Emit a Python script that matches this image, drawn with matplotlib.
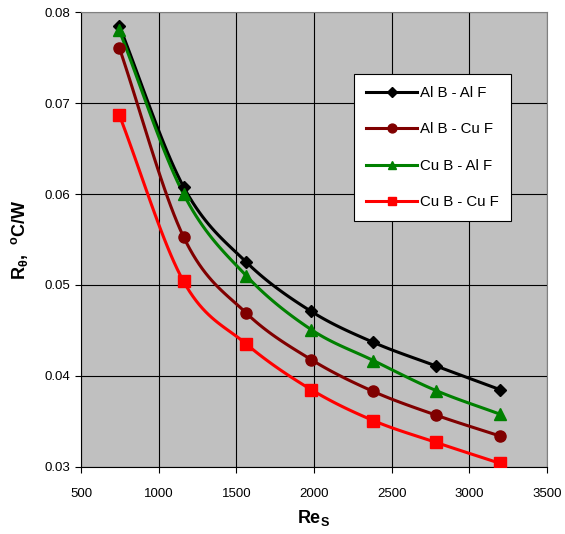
import numpy as np
import matplotlib.pyplot as plt

plt.rcParams['font.family'] = ['Liberation Sans', 'DejaVu Sans']
plt.rcParams['mathtext.fontset'] = 'custom'
plt.rcParams['mathtext.rm'] = 'Liberation Sans:bold'
plt.rcParams['mathtext.it'] = 'Liberation Sans:bold'
plt.rcParams['mathtext.bf'] = 'Liberation Sans:bold'

# data
re_s = [746, 1160, 1565, 1982, 2382, 2786, 3198]
al_al = [0.0785, 0.0608, 0.0525, 0.0471, 0.0437, 0.0411, 0.0385]
al_cu = [0.0761, 0.0553, 0.0469, 0.0418, 0.0383, 0.0357, 0.0334]
cu_al = [0.0780, 0.0600, 0.0510, 0.0451, 0.0417, 0.0384, 0.0358]
cu_cu = [0.0687, 0.0504, 0.0435, 0.0385, 0.0351, 0.0327, 0.0304]

series = [
    ('Al B - Al F', al_al, 'black', 'D', 6),
    ('Al B - Cu F', al_cu, '#800000', 'o', 8),
    ('Cu B - Al F', cu_al, '#008000', '^', 8),
    ('Cu B - Cu F', cu_cu, '#FF0000', 's', 8),
]


def smooth(x, y, n=20):
    # Catmull-Rom style smoothing, like the spreadsheet "smoothed line" option
    x = np.asarray(x, float)
    y = np.asarray(y, float)
    px = np.concatenate([[2 * x[0] - x[1]], x, [2 * x[-1] - x[-2]]])
    py = np.concatenate([[2 * y[0] - y[1]], y, [2 * y[-1] - y[-2]]])
    xs, ys = [], []
    t = np.linspace(0, 1, n, endpoint=False)
    for i in range(1, len(px) - 2):
        for p, out in ((px, xs), (py, ys)):
            p0, p1, p2, p3 = p[i - 1], p[i], p[i + 1], p[i + 2]
            out.extend(0.5 * ((2 * p1) + (-p0 + p2) * t
                              + (2 * p0 - 5 * p1 + 4 * p2 - p3) * t ** 2
                              + (-p0 + 3 * p1 - 3 * p2 + p3) * t ** 3))
    xs.append(x[-1])
    ys.append(y[-1])
    return xs, ys


fig = plt.figure(figsize=(5.65, 5.34), dpi=100)
ax = fig.add_axes([0.1434, 0.1255, 0.8246, 0.852])
ax.set_facecolor('#C0C0C0')

for label, vals, color, marker, ms in series:
    sx, sy = smooth(re_s, vals)
    ax.plot(sx, sy, color=color, lw=2.2, zorder=3)
    ax.plot(re_s, vals, linestyle='none', marker=marker, ms=ms, color=color, zorder=4)
    ax.plot([], [], color=color, lw=2.2, marker=marker, ms=ms, label=label)

ax.set_xlim(500, 3500)
ax.set_ylim(0.03, 0.08)
ax.set_xticks(np.arange(500, 3501, 500))
ax.set_yticks([0.03, 0.04, 0.05, 0.06, 0.07, 0.08])
ax.grid(True, color='black', lw=0.8)
ax.set_axisbelow(True)
ax.tick_params(labelsize=9.5, length=4, width=0.8, direction='out')
ax.tick_params(axis='x', pad=11)
ax.tick_params(axis='y', pad=4)
for side in ['top', 'right']:
    ax.spines[side].set_color('#808080')
for side in ['left', 'bottom']:
    ax.spines[side].set_color('black')

ax.set_xlabel(r'Re$_{\mathrm{S}}$', fontsize=13, fontweight='bold', labelpad=6)
ax.set_ylabel(r'R$_{\theta}$,  $^{\mathrm{o}}$C/W', fontsize=13, fontweight='bold', labelpad=10)

handles, labels = ax.get_legend_handles_labels()
leg = ax.legend(handles, labels, loc='upper left', bbox_to_anchor=(0.586, 0.864),
                borderaxespad=0, fontsize=10.8, frameon=True, fancybox=False,
                edgecolor='black', framealpha=1, facecolor='white',
                handlelength=3.4, labelspacing=1.5, borderpad=0.8,
                handletextpad=0.2, markerscale=0.8)
leg.get_frame().set_linewidth(0.8)

fig.savefig('out.png', dpi=100)
